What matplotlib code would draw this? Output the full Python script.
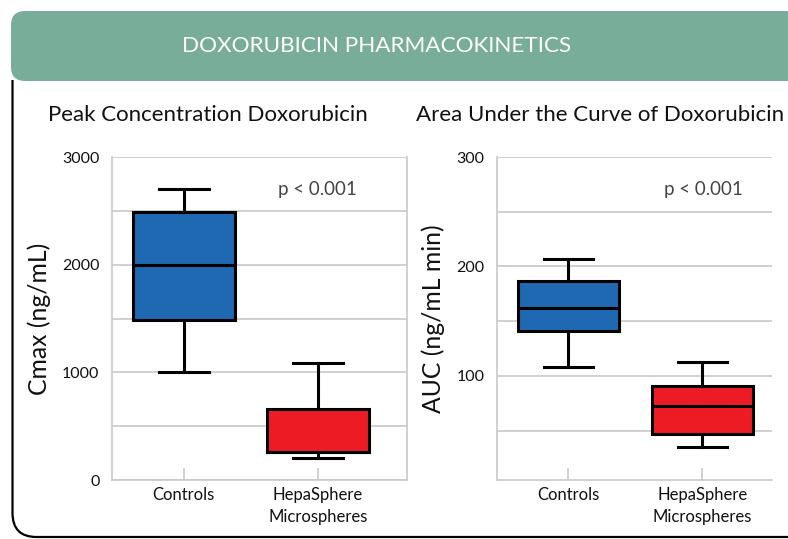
import numpy as np
import matplotlib.pyplot as plt
from matplotlib.patches import FancyBboxPatch
from matplotlib.path import Path
from matplotlib.patches import PathPatch

plt.rcParams["font.family"] = ["Lato", "DejaVu Sans"]

# Data
groups = ["Controls", "HepaSphere\nMicrospheres"]
# whisker low, q1, median, q3, whisker high
cmax_stats = [[1000, 1487, 1998, 2486, 2705],
              [203, 263, 263, 659, 1088]]
auc_stats = [[108, 141, 162, 187, 207],
             [35, 47, 73, 91, 113]]
colors = ["#1e69b1", "#ed1c24"]

fig = plt.figure(figsize=(7.88, 5.39), dpi=100)
W, H = 788, 539


def fx(px):
    return px / W


def fy(py):
    return 1 - py / H


# frame: left + bottom lines with rounded corner
r = 24
verts = [(fx(12.5), fy(80)), (fx(12.5), fy(537 - r)), (fx(12.5), fy(537)),
         (fx(12.5 + r), fy(537)), (fx(790), fy(537))]
codes = [Path.MOVETO, Path.LINETO, Path.CURVE3, Path.CURVE3, Path.LINETO]
fig.patches.append(PathPatch(Path(verts, codes), transform=fig.transFigure,
                             fill=False, lw=1.6, ec="black"))

# banner
banner = FancyBboxPatch((fx(11), fy(81)), fx(800) - fx(11), fy(11) - fy(81),
                        boxstyle="round,pad=0,rounding_size=0.018",
                        transform=fig.transFigure, fc="#78ae99", ec="none",
                        mutation_aspect=W / H)
fig.patches.append(banner)
fig.text(fx(377), fy(46), "DOXORUBICIN PHARMACOKINETICS", color="white",
         fontsize=16.2, ha="center", va="center")

fig.text(fx(208), fy(115), "Peak Concentration Doxorubicin", fontsize=16,
         ha="center", va="center", color="#111111")
fig.text(fx(600), fy(115), "Area Under the Curve of Doxorubicin", fontsize=16,
         ha="center", va="center", color="#111111")


def box_panel(ax, stats, ylim, major, minor, labels, xlim, ylabel, show_right):
    bxp = []
    for s in stats:
        bxp.append(dict(whislo=s[0], q1=s[1], med=s[2], q3=s[3], whishi=s[4],
                        fliers=[]))
    parts = ax.bxp(bxp, positions=[1, 2], widths=0.76, patch_artist=True,
                   showfliers=False,
                   boxprops=dict(lw=2.2, ec="black"),
                   medianprops=dict(lw=2.2, color="black"),
                   whiskerprops=dict(lw=2.2, color="black"),
                   capprops=dict(lw=2.2, color="black"), capwidths=0.37)
    for patch, c in zip(parts["boxes"], colors):
        patch.set_facecolor(c)
    ax.set_xlim(*xlim)
    ax.set_ylim(*ylim)
    ax.set_yticks(major)
    ax.set_yticklabels(labels)
    ax.set_yticks(minor, minor=True)
    ax.grid(True, axis="y", which="both", color="#c8c8c8", lw=1.2, zorder=0)
    ax.set_axisbelow(True)
    ax.tick_params(axis="y", which="both", length=0, labelsize=11.5, pad=9,
                   labelcolor="#111111")
    ax.tick_params(axis="x", direction="in", length=9, color="#c8c8c8",
                   width=1.2, labelsize=12, pad=5, labelcolor="#111111")
    ax.set_xticks([1, 2])
    ax.set_xticklabels(groups, linespacing=1.45)
    for sp in ["left", "bottom", "right"]:
        ax.spines[sp].set_color("#c8c8c8")
        ax.spines[sp].set_linewidth(1.2)
    ax.spines["top"].set_visible(False)
    ax.spines["right"].set_visible(show_right)
    ax.set_ylabel(ylabel, fontsize=17.8, labelpad=8, color="#111111")


ax1 = fig.add_axes([fx(112), fy(480), fx(407) - fx(112), fy(157) - fy(480)])
box_panel(ax1, cmax_stats, (0, 3000), [0, 1000, 2000, 3000],
          [500, 1500, 2500], ["0", "1000", "2000", "3000"],
          (0.465, 2.665), "Cmax (ng/mL)", True)
ax1.text(0.697, 0.9, "p < 0.001", transform=ax1.transAxes, fontsize=13.5,
         ha="center", va="center", color="#444444")

ax2 = fig.add_axes([fx(497), fy(480), fx(772) - fx(497), fy(157) - fy(480)])
box_panel(ax2, auc_stats, (5, 300), [100, 200, 300],
          [50, 150, 250], ["100", "200", "300"],
          (0.466, 2.52), "AUC (ng/mL min)", False)
ax2.text(0.75, 0.9, "p < 0.001", transform=ax2.transAxes, fontsize=13.5,
         ha="center", va="center", color="#444444")

fig.savefig("out.png", dpi=100)
